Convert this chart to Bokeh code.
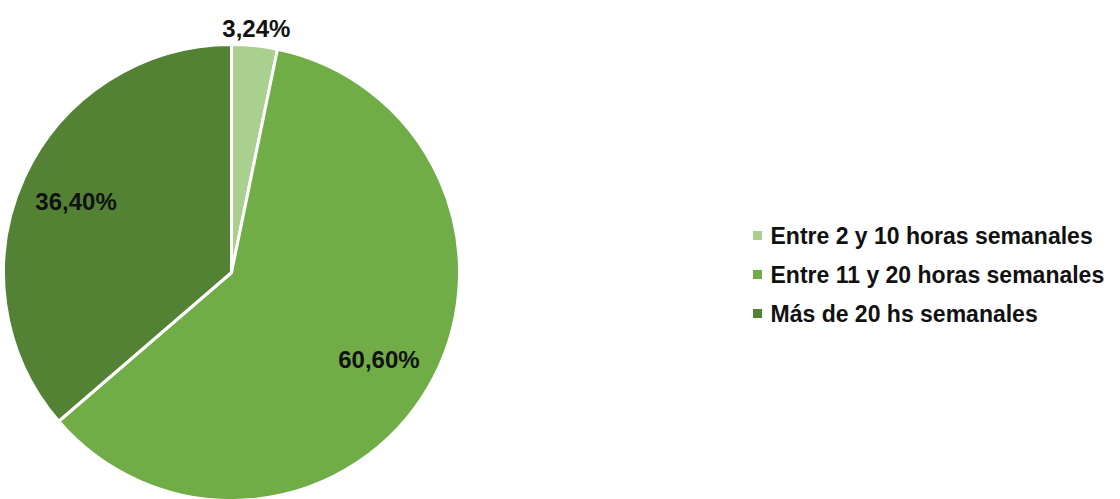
import math
from bokeh.plotting import figure
from bokeh.models import ColumnDataSource, Range1d
from bokeh.core.properties import value
from bokeh.embed import file_html
from bokeh.resources import INLINE

categories = ["Entre 2 y 10 horas semanales", "Entre 11 y 20 horas semanales", "Más de 20 hs semanales"]
values = [3.24, 60.60, 36.40]
labels = ["3,24%", "60,60%", "36,40%"]
colors = ["#A9D08E", "#70AD47", "#548235"]
label_radius = [1.075, 0.75, 0.75]

W, H = 1120, 499
cx, cy, R = 231, 499 - 272, 228

total = sum(values)
starts, ends, lx, ly = [], [], [], []
a = math.pi / 2
for v, lr in zip(values, label_radius):
    sweep = v / total * 2 * math.pi
    starts.append(a - sweep)
    ends.append(a)
    mid = a - sweep / 2
    lx.append(cx + lr * R * math.cos(mid))
    ly.append(cy + lr * R * math.sin(mid))
    a -= sweep

src = ColumnDataSource(dict(start=starts, end=ends, color=colors, lx=lx, ly=ly, label=labels,
                            cat=categories))

p = figure(width=W, height=H, output_backend="svg", toolbar_location=None,
           x_range=Range1d(0, W), y_range=Range1d(0, H), min_border=0)
p.axis.visible = False
p.grid.visible = False
p.outline_line_color = None
p.background_fill_color = "white"

p.wedge(x=cx, y=cy, radius=R, start_angle="start", end_angle="end", fill_color="color",
        line_color="white", line_width=3, source=src)
p.text(x="lx", y="ly", text="label", text_align="center", text_baseline="middle",
       text_font=value("Liberation Sans"), text_font_style="bold", text_font_size="24px",
       text_color="#111111", source=src)

# legend
leg_y = [499 - 235 - i * 39 for i in range(len(categories))]
leg = ColumnDataSource(dict(y=leg_y, cat=categories, color=colors))
p.scatter(x=757, y="y", marker="square", size=9, fill_color="color", line_color=None, source=leg)
p.text(x=770, y="y", text="cat", text_align="left", text_baseline="middle",
       text_font=value("Liberation Sans"), text_font_style="bold", text_font_size="23px",
       text_color="#111111", source=leg)

open("out.html", "w").write(file_html(p, INLINE))
